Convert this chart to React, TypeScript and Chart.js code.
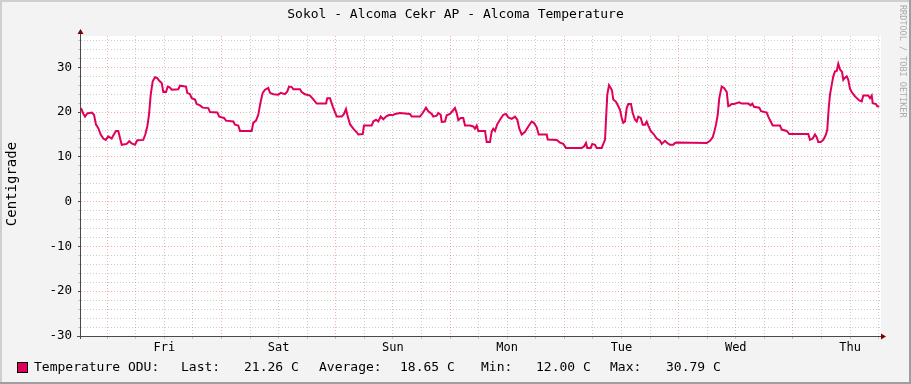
import { useEffect, useRef } from 'react';
import { Chart, registerables } from 'chart.js';

Chart.register(...registerables);

const TITLE = 'Sokol - Alcoma Cekr AP - Alcoma Temperature';
const Y_LABEL = 'Centigrade';
const WATERMARK = 'RRDTOOL / TOBI OETIKER';
const DAY_LABELS = ['Fri', 'Sat', 'Sun', 'Mon', 'Tue', 'Wed', 'Thu'];
const FIRST_MIDNIGHT_H = 5.5;
const SPAN_H = 168;
const Y_MIN = -30;
const Y_MAX = 37;

const HOURS = [
  0, 0.5, 0.84, 1.32, 2.25, 2.73, 3.15, 3.63, 4.14, 4.68, 5.19, 5.73, 6.45, 6.78, 7.35, 7.83, 8.19, 8.55, 9.6, 10.14,
  10.65, 11.34, 11.82, 13.08, 13.5, 13.92, 14.28, 14.64, 15.06, 15.54, 16.02, 16.44, 16.95, 17.28, 17.85, 18.21, 18.69, 19.05, 20.43, 20.79,
  22.05, 22.32, 22.89, 23.25, 23.94, 24.3, 24.99, 25.56, 26.73, 27.09, 28.62, 29.04, 30.03, 30.45, 31.98, 32.34, 33.03, 33.39, 35.85, 36.18,
  36.75, 37.23, 37.74, 38.16, 38.64, 39.33, 39.69, 40.38, 41.43, 41.94, 42.84, 43.32, 43.68, 44.25, 44.58, 45.99, 46.35, 47.04, 48.09, 48.66,
  49.5, 51.45, 51.72, 52.29, 52.86, 53.7, 54.75, 55.23, 55.65, 55.92, 56.49, 57.18, 57.9, 58.23, 59.16, 59.43, 61.05, 61.38, 61.95, 62.43,
  62.94, 63.48, 64.05, 64.74, 65.46, 65.94, 66.99, 69.09, 69.45, 71.19, 71.76, 72.45, 72.93, 73.65, 73.98, 74.7, 75.03, 75.54, 75.75, 76.44,
  76.8, 77.49, 78.06, 78.54, 78.9, 79.23, 79.74, 80.28, 80.64, 81.69, 82.38, 82.74, 83.1, 83.43, 84.84, 85.2, 85.89, 86.25, 86.58, 86.94,
  87.42, 87.99, 88.68, 89.25, 89.73, 90.45, 91.14, 91.62, 92.04, 92.55, 93.24, 93.93, 94.65, 95.13, 95.7, 96.12, 97.8, 98.01, 99.9, 100.59,
  101.28, 101.85, 105.15, 105.63, 106.05, 106.32, 107.04, 107.37, 107.94, 108.3, 109.35, 109.68, 110.04, 110.25, 110.52, 110.88, 111.24, 111.51, 111.78, 112.35,
  112.83, 113.19, 113.55, 113.88, 114.24, 114.6, 114.93, 115.5, 115.86, 116.34, 116.7, 117.03, 117.54, 117.96, 118.44, 118.8, 119.13, 119.64, 120.33, 120.9,
  121.59, 121.95, 122.64, 123.12, 123.69, 124.38, 124.74, 125.1, 131.4, 132.09, 132.66, 132.99, 133.35, 133.71, 134.04, 134.19, 134.55, 135.03, 135.6, 135.93,
  136.29, 136.65, 137.13, 137.7, 138.24, 138.75, 140.13, 140.64, 140.97, 141.33, 142.44, 142.8, 144.0, 144.33, 144.84, 145.26, 146.79, 147.15, 148.2, 148.74,
  152.73, 153.09, 153.66, 154.14, 154.5, 154.83, 155.34, 155.88, 156.45, 156.72, 157.02, 157.29, 157.65, 157.98, 158.34, 158.7, 159.03, 159.39, 159.81, 160.08,
  160.44, 160.8, 161.13, 161.49, 161.85, 162.54, 163.44, 163.95, 164.28, 165.33, 165.69, 166.05, 166.26, 166.95, 167.22, 167.64,
];

const TEMPS = [
  20.9, 19.6, 19.0, 19.7, 19.9, 19.4, 17.2, 16.4, 15.0, 14.1, 13.8, 14.6, 14.1, 14.8, 15.8, 15.8, 14.2, 12.7, 12.9, 13.5,
  13.0, 12.7, 13.7, 13.8, 15.0, 16.8, 19.4, 23.9, 26.9, 27.8, 27.6, 27.0, 26.5, 24.5, 24.5, 25.7, 25.5, 25.0, 25.1, 25.9,
  25.7, 24.3, 24.0, 23.1, 22.8, 21.8, 21.5, 21.0, 20.9, 20.0, 19.9, 19.0, 18.7, 18.1, 17.9, 17.2, 17.0, 15.8, 15.8, 17.6,
  18.1, 19.4, 22.4, 24.3, 25.0, 25.4, 24.3, 24.0, 23.9, 24.3, 24.0, 24.6, 25.7, 25.6, 25.1, 25.1, 24.5, 24.0, 23.7, 23.0,
  21.9, 21.9, 23.1, 23.1, 21.3, 19.0, 19.0, 19.6, 20.7, 19.4, 17.3, 16.3, 15.5, 15.0, 15.1, 17.0, 17.0, 17.9, 18.3, 17.9,
  19.0, 18.4, 19.0, 19.4, 19.3, 19.6, 19.8, 19.6, 19.0, 19.0, 19.8, 21.0, 20.2, 19.6, 19.0, 19.2, 19.8, 19.4, 17.8, 17.9,
  19.3, 19.6, 20.3, 20.9, 19.8, 18.2, 18.7, 18.7, 17.0, 17.0, 16.8, 16.3, 17.0, 15.8, 15.8, 13.3, 13.3, 15.7, 16.3, 15.8,
  17.3, 18.3, 19.4, 19.6, 18.8, 18.5, 19.0, 18.3, 16.3, 15.0, 15.6, 16.8, 17.9, 17.6, 16.6, 15.0, 15.0, 13.9, 13.8, 13.2,
  12.9, 12.0, 12.0, 12.3, 13.1, 12.0, 12.0, 12.9, 12.7, 12.0, 12.0, 12.9, 13.8, 18.3, 23.9, 26.0, 25.4, 24.8, 22.8, 22.3,
  21.3, 20.5, 18.7, 17.6, 17.9, 20.9, 21.8, 21.8, 19.8, 18.3, 17.9, 19.0, 18.7, 17.2, 17.2, 17.9, 17.0, 15.8, 15.0, 14.1,
  13.6, 12.9, 13.6, 13.1, 12.7, 12.7, 13.1, 13.2, 13.1, 13.6, 14.4, 15.6, 17.2, 19.4, 23.1, 23.9, 25.7, 25.4, 24.5, 21.3,
  21.5, 21.8, 21.8, 22.0, 22.2, 21.9, 21.9, 21.5, 21.9, 21.2, 21.0, 20.2, 19.9, 19.0, 17.9, 17.0, 17.0, 16.1, 15.8, 15.1,
  15.1, 13.8, 14.1, 15.0, 14.4, 13.3, 13.3, 13.8, 15.0, 16.1, 20.9, 23.9, 26.1, 28.0, 29.1, 29.2, 30.8, 29.5, 29.0, 27.2,
  27.7, 28.0, 27.2, 25.2, 24.5, 23.5, 22.6, 22.4, 23.7, 23.7, 23.1, 23.7, 22.0, 21.8, 21.3, 21.26,
];

const LEGEND_NAME = 'Temperature ODU:';
const STAT_LABELS = ['Last:', 'Average:', 'Min:', 'Max:'];
const STAT_VALUES = [21.26, 18.65, 12.0, 30.79];
const STAT_UNIT = 'C';

const LINE_COLOR = '#E0005A';
const MINOR_GRID = 'rgba(143,143,143,0.46)';
const MAJOR_GRID = 'rgba(222,80,80,0.46)';
const MONO = '"DejaVu Sans Mono", monospace';

const near = (a: number, b: number) => Math.abs(a - b) < 1e-6;
const isMidnight = (h: number) => {
  const k = (h - FIRST_MIDNIGHT_H) / 24;
  return near(k, Math.round(k));
};
const dayIndexAtNoon = (h: number) => {
  const k = (h - FIRST_MIDNIGHT_H - 12) / 24;
  return near(k, Math.round(k)) ? Math.round(k) : -1;
};

const rrdPlugin = {
  id: 'rrdLook',
  beforeDraw(chart: any) {
    const { ctx, width, height, chartArea: a } = chart;
    ctx.save();
    ctx.fillStyle = '#F3F3F3';
    ctx.fillRect(0, 0, width, height);
    ctx.fillStyle = '#CFCFCF';
    ctx.fillRect(0, 0, width, 2);
    ctx.fillRect(0, 0, 2, height);
    ctx.fillStyle = '#9E9E9E';
    ctx.fillRect(width - 2, 0, 2, height);
    ctx.fillRect(0, height - 2, width, 2);
    ctx.fillStyle = '#FFFFFF';
    ctx.fillRect(a.left, a.top, a.right - a.left, a.bottom - a.top);
    ctx.restore();
  },
  afterDraw(chart: any) {
    const { ctx, width, chartArea: a } = chart;
    ctx.save();
    // axes
    ctx.strokeStyle = '#4A4A4A';
    ctx.lineWidth = 1;
    ctx.beginPath();
    ctx.moveTo(a.left - 0.5, a.bottom + 3);
    ctx.lineTo(a.left - 0.5, a.top - 3);
    ctx.moveTo(a.left - 4, a.bottom + 0.5);
    ctx.lineTo(a.right + 1, a.bottom + 0.5);
    ctx.stroke();
    // arrows
    ctx.fillStyle = '#7F0000';
    ctx.beginPath();
    ctx.moveTo(a.left - 0.5, a.top - 7);
    ctx.lineTo(a.left - 3.5, a.top - 2);
    ctx.lineTo(a.left + 2.5, a.top - 2);
    ctx.closePath();
    ctx.fill();
    ctx.beginPath();
    ctx.moveTo(a.right + 5, a.bottom + 0.5);
    ctx.lineTo(a.right, a.bottom - 2.5);
    ctx.lineTo(a.right, a.bottom + 3.5);
    ctx.closePath();
    ctx.fill();

    // title
    ctx.fillStyle = '#000';
    ctx.font = `13px ${MONO}`;
    ctx.textAlign = 'center';
    ctx.textBaseline = 'middle';
    ctx.fillText(TITLE, width / 2, 15);

    // y label
    ctx.save();
    ctx.translate(12, 184);
    ctx.rotate(-Math.PI / 2);
    ctx.font = `14px ${MONO}`;
    ctx.fillText(Y_LABEL, 0, 0);
    ctx.restore();

    // watermark
    ctx.save();
    ctx.translate(902, 5);
    ctx.rotate(Math.PI / 2);
    ctx.font = `8.5px ${MONO}`;
    ctx.fillStyle = '#ABABAB';
    ctx.textAlign = 'left';
    ctx.fillText(WATERMARK, 0, 0);
    ctx.restore();

    // legend
    ctx.fillStyle = LINE_COLOR;
    ctx.fillRect(18, 363, 9, 9);
    ctx.strokeStyle = '#000';
    ctx.strokeRect(17.5, 362.5, 10, 10);
    ctx.fillStyle = '#000';
    ctx.font = `13px ${MONO}`;
    ctx.textAlign = 'left';
    ctx.textBaseline = 'middle';
    const ly = 368;
    ctx.fillText(LEGEND_NAME, 34, ly);
    const labelX = [181, 319, 481, 610];
    const valueX = [244, 400, 536, 666];
    STAT_LABELS.forEach((lab, i) => {
      ctx.fillText(lab, labelX[i], ly);
      ctx.fillText(`${STAT_VALUES[i].toFixed(2)} ${STAT_UNIT}`, valueX[i], ly);
    });
    ctx.restore();
  },
};

export default function App() {
  const ref = useRef<HTMLCanvasElement | null>(null);

  useEffect(() => {
    if (!ref.current) return;
    const chart = new Chart(ref.current, {
      type: 'line',
      data: {
        datasets: [
          {
            data: HOURS.map((h, i) => ({ x: h, y: TEMPS[i] })),
            borderColor: LINE_COLOR,
            borderWidth: 2,
            pointRadius: 0,
            tension: 0,
            fill: false,
          },
        ],
      },
      options: {
        animation: false,
        responsive: false,
        devicePixelRatio: 1,
        events: [],
        layout: { padding: { left: 0, right: 30, top: 36, bottom: 0 }, autoPadding: false },
        plugins: {
          legend: { display: false },
          title: { display: false },
          tooltip: { enabled: false },
        },
        scales: {
          x: {
            type: 'linear',
            min: 0,
            max: SPAN_H,
            afterBuildTicks: (s: any) => {
              const t = [];
              for (let h = FIRST_MIDNIGHT_H; h <= SPAN_H; h += 6) t.push({ value: h });
              s.ticks = t;
            },
            afterFit: (s: any) => {
              s.height = 48;
            },
            ticks: {
              autoSkip: false,
              maxRotation: 0,
              minRotation: 0,
              padding: 2,
              color: '#000',
              font: { family: MONO, size: 12 },
              callback: (v: any) => {
                const d = dayIndexAtNoon(Number(v));
                return d >= 0 && d < DAY_LABELS.length ? DAY_LABELS[d] : '';
              },
            },
            grid: {
              color: (c: any) => (c.tick && isMidnight(c.tick.value) ? MAJOR_GRID : MINOR_GRID),
              tickColor: (c: any) => (c.tick && isMidnight(c.tick.value) ? MAJOR_GRID : MINOR_GRID),
              lineWidth: 1,
              tickLength: 3,
              drawTicks: true,
            },
            border: { display: false, dash: [1, 2] },
          },
          y: {
            type: 'linear',
            min: Y_MIN,
            max: Y_MAX,
            afterBuildTicks: (s: any) => {
              const t = [];
              for (let v = Y_MIN; v <= Y_MAX; v += 2) t.push({ value: v });
              s.ticks = t;
            },
            afterFit: (s: any) => {
              s.width = 81;
            },
            ticks: {
              autoSkip: false,
              padding: 6,
              color: '#000',
              font: { family: MONO, size: 12.5 },
              callback: (v: any) => (Number(v) % 10 === 0 ? String(v) : ''),
            },
            grid: {
              color: (c: any) => (c.tick && c.tick.value % 10 === 0 ? MAJOR_GRID : MINOR_GRID),
              tickColor: (c: any) => (c.tick && c.tick.value % 10 === 0 ? '#4A4A4A' : MINOR_GRID),
              lineWidth: 1,
              tickLength: 3,
              drawTicks: true,
            },
            border: { display: false, dash: [1, 2] },
          },
        },
      },
      plugins: [rrdPlugin],
    } as any);
    return () => chart.destroy();
  }, []);

  return (
    <div style={{ position: 'fixed', left: 0, top: 0, width: 911, height: 384 }}>
      <canvas ref={ref} width={911} height={384} style={{ display: 'block', width: 911, height: 384 }} />
    </div>
  );
}
